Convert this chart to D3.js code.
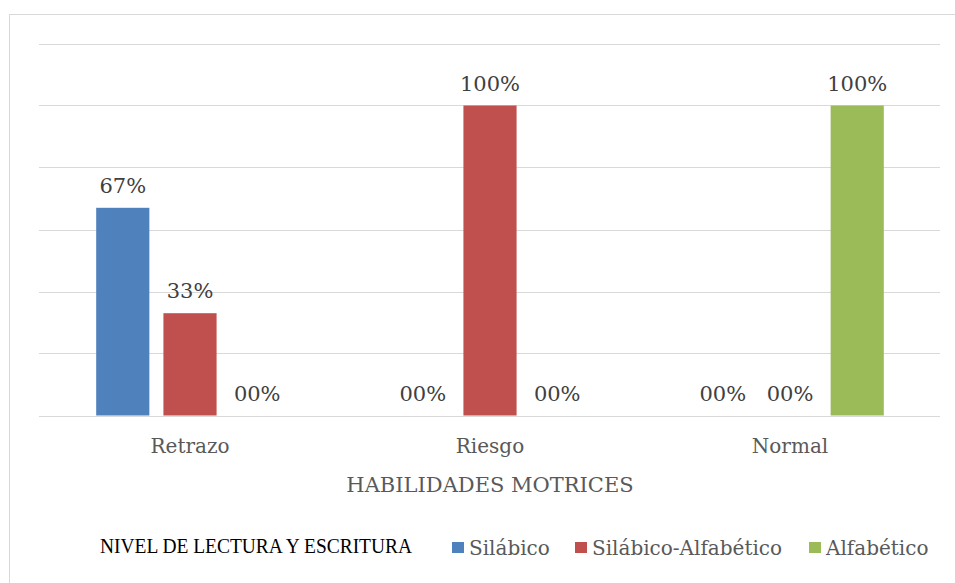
<!DOCTYPE html>
<html>
<head>
<meta charset="utf-8">
<script src="https://cdn.jsdelivr.net/npm/d3@7"></script>
<style>
  body { margin: 0; background: #fff; }
  svg { display: block; }
</style>
</head>
<body>
<script>
// data
const categories = ["Retrazo", "Riesgo", "Normal"];
const seriesNames = ["Silábico", "Silábico-Alfabético", "Alfabético"];
const silabico = [0.67, 0, 0];
const silabicoAlfabetico = [0.33, 1, 0];
const alfabetico = [0, 0, 1];
const barLabels = [["67%", "33%", "00%"], ["00%", "100%", "00%"], ["00%", "00%", "100%"]];
const yTicks = [0, 0.2, 0.4, 0.6, 0.8, 1.0, 1.2];

const colors = ["#4F81BD", "#C0504D", "#9BBB59"];
const values = [silabico, silabicoAlfabetico, alfabetico];

const width = 955, height = 583;
const serif = "'DejaVu Serif', serif";

var svg = d3.select("body").append("svg")
  .attr("width", width)
  .attr("height", height);

// outer chart border (only top and left show in the picture)
svg.append("rect")
  .attr("x", 9.5).attr("y", 14.5)
  .attr("width", 960).attr("height", 600)
  .attr("fill", "none")
  .attr("stroke", "#D9D9D9");

const x0 = d3.scaleBand().domain(categories).range([40, 940]);
const x1 = d3.scaleBand().domain(seriesNames).range([0, x0.bandwidth()])
  .paddingInner(0.209).paddingOuter(0.836);
const y = d3.scaleLinear().domain([0, 1.2]).range([415.5, 43.5]);

// gridlines
svg.append("g").selectAll("line")
  .data(yTicks)
  .enter().append("line")
  .attr("x1", 39).attr("x2", 940)
  .attr("y1", d => Math.round(y(d)) + 0.5)
  .attr("y2", d => Math.round(y(d)) + 0.5)
  .attr("stroke", "#D9D9D9")
  .attr("stroke-width", 1);

// bars
const rows = [];
categories.forEach((c, i) => {
  seriesNames.forEach((s, j) => {
    rows.push({ cat: c, ser: s, v: values[j][i], label: barLabels[i][j], color: colors[j] });
  });
});

svg.append("g").selectAll("rect")
  .data(rows)
  .enter().append("rect")
  .attr("x", d => x0(d.cat) + x1(d.ser))
  .attr("y", d => y(d.v))
  .attr("width", x1.bandwidth())
  .attr("height", d => y(0) - y(d.v))
  .attr("fill", d => d.color);

// data labels
svg.append("g").selectAll("text")
  .data(rows)
  .enter().append("text")
  .attr("x", d => x0(d.cat) + x1(d.ser) + x1.bandwidth() / 2)
  .attr("y", d => y(d.v) - 15)
  .attr("text-anchor", "middle")
  .style("font-family", serif)
  .style("font-size", "21px")
  .attr("fill", "#404040")
  .text(d => d.label);

// category labels
const xAxis = svg.append("g")
  .attr("transform", "translate(0,415)")
  .call(d3.axisBottom(x0).tickSize(0).tickPadding(0));
xAxis.select(".domain").remove();
xAxis.selectAll("text")
  .attr("y", 38)
  .attr("dy", 0)
  .style("font-family", serif)
  .style("font-size", "20px")
  .attr("fill", "#595959");

// axis title
svg.append("text")
  .attr("x", 490).attr("y", 492)
  .attr("text-anchor", "middle")
  .style("font-family", serif)
  .style("font-size", "21px")
  .attr("fill", "#595959")
  .text("HABILIDADES MOTRICES");

// legend
svg.append("text")
  .attr("x", 100).attr("y", 553)
  .attr("textLength", 312)
  .attr("lengthAdjust", "spacingAndGlyphs")
  .style("font-family", "'Liberation Serif', serif")
  .style("font-size", "22px")
  .attr("fill", "#000")
  .text("NIVEL DE LECTURA Y ESCRITURA");

const legendX = [452, 575, 809];
const legend = svg.append("g").selectAll("g")
  .data(seriesNames)
  .enter().append("g")
  .attr("transform", (d, i) => "translate(" + legendX[i] + ",0)");
legend.append("rect")
  .attr("x", 0).attr("y", 542)
  .attr("width", 12).attr("height", 11)
  .attr("fill", (d, i) => colors[i]);
legend.append("text")
  .attr("x", 17).attr("y", 555)
  .style("font-family", serif)
  .style("font-size", "20px")
  .attr("fill", "#595959")
  .text(d => d);
</script>
</body>
</html>
